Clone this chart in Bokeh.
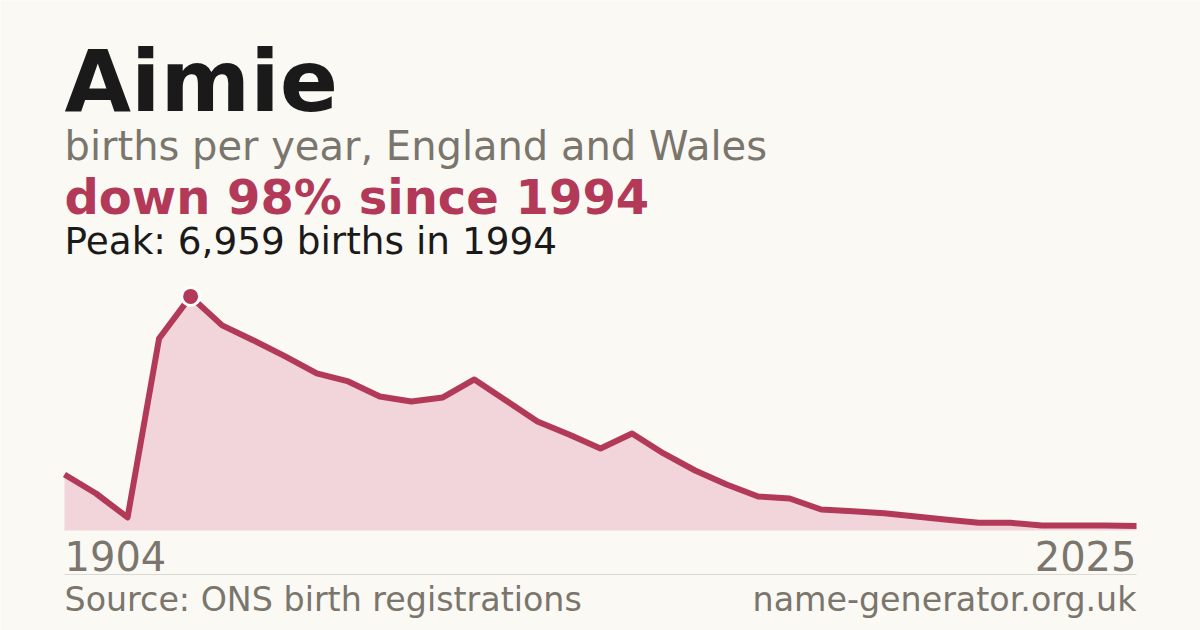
from bokeh.embed import file_html
from bokeh.models import BoxAnnotation, Label, Range1d
from bokeh.plotting import figure
from bokeh.resources import INLINE

name = 'Aimie'
subtitle = 'births per year, England and Wales'
first_year = '1904'
last_year = '2025'
peak_year = 1994
change_pct = 98
source_text = 'Source: ONS birth registrations'
site_text = 'name-generator.org.uk'

# births per year, one entry per point on the chart (evenly spaced)
births = [1665, 1100, 387, 5710, 6959, 6097, 5650, 5175, 4670, 4431,
          3985, 3836, 3955, 4491, 3866, 3242, 2855, 2439, 2885, 2290,
          1784, 1368, 1011, 952, 625, 574, 515, 416, 318, 229,
          229, 149, 149, 149, 135]

BG = '#faf9f4'
RED = '#b23a58'
PINK = '#f2d5db'
GREY = '#7a756d'
INK = '#1a1a1a'
FONT = 'DejaVu Sans'

W, H = 1200, 630
# chart area in page pixels
LEFT, RIGHT, TOP, BASE = 64, 1136, 280, 530

xs = list(range(len(births)))
peak_i = births.index(max(births))

# the frame fills the whole canvas so texts are not clipped;
# ranges are stretched so the chart sits in its box
n = len(births) - 1
upx = n / (RIGHT - LEFT)
ymax = max(births) * 1.068
upy = ymax / (BASE - TOP)

p = figure(
    width=W, height=H,
    x_range=Range1d(-LEFT * upx, n + (W - RIGHT) * upx),
    y_range=Range1d(-(H - BASE) * upy, BASE * upy),
    x_axis_location=None, y_axis_location=None,
    toolbar_location=None, output_backend='svg',
    min_border=0,
)
p.title.visible = False
p.grid.grid_line_color = None
p.outline_line_color = None
p.background_fill_color = BG
p.border_fill_color = BG

p.varea(x=xs, y1=[0] * len(births), y2=births, fill_color=PINK)
p.line(x=xs, y=births, line_color=RED, line_width=6, line_join='round')
p.scatter(x=[xs[peak_i]], y=[births[peak_i]], size=18, fill_color=RED,
          line_color='white', line_width=3)


def add_text(text, x, y, size, color, bold=False, align='left'):
    # x, y are page pixels from the top-left (y is the baseline);
    # bokeh sets the box bottom a bit under the baseline, so lift it
    p.add_layout(Label(
        x=x, y=H - y + 0.37 * size, x_units='screen', y_units='screen',
        text=text, text_font=FONT, text_font_size=f'{size}px',
        text_color=color, text_font_style='bold' if bold else 'normal',
        text_align=align, text_baseline='alphabetic',
    ))


add_text(name, LEFT, 112, 86, INK, bold=True)
add_text(subtitle, LEFT, 160, 40, GREY)
add_text(f'down {change_pct}% since {peak_year}', LEFT, 214, 48, RED, bold=True)
add_text(f'Peak: {max(births):,} births in {peak_year}', LEFT, 254, 37.4, INK)
add_text(first_year, LEFT, 570, 40, GREY)
add_text(last_year, RIGHT, 570, 40, GREY, align='right')
add_text(source_text, LEFT, 611, 33.3, GREY)
add_text(site_text, RIGHT, 611, 33.3, GREY, align='right')

p.add_layout(BoxAnnotation(
    left=LEFT, right=RIGHT, top=H - 573.5, bottom=H - 574.5,
    left_units='screen', right_units='screen',
    top_units='screen', bottom_units='screen',
    fill_color='#dcd9d2', fill_alpha=1, line_color=None,
))

open('out.html', 'w').write(file_html(p, INLINE))
